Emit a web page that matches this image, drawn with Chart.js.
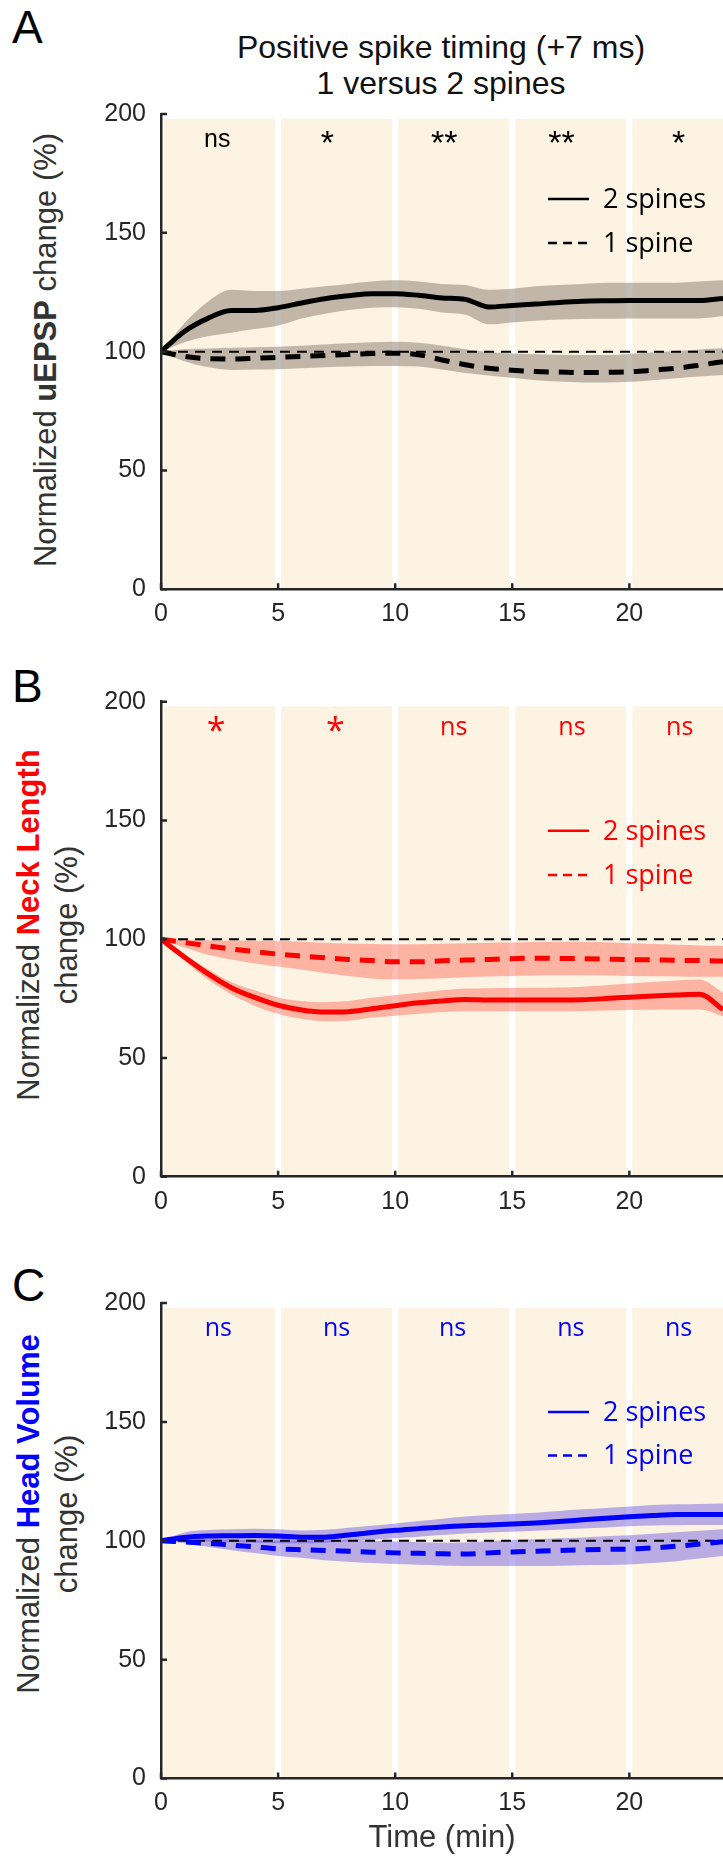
<!DOCTYPE html>
<html>
<head>
<meta charset="utf-8">
<script src="https://cdn.jsdelivr.net/npm/chart.js@4.4.1/dist/chart.umd.min.js"></script>
<style>
  html, body { margin: 0; padding: 0; background: #fff; }
  #fig { position: relative; width: 723px; height: 1860px; overflow: hidden; font-family: 'Liberation Sans', Arial, sans-serif; color: #262626; }
  #fig canvas { position: absolute; left: 0; }
  .letter { position: absolute; left: 12px; font-size: 46px; line-height: 46px; color: #000; }
  .title { position: absolute; left: 141px; top: 29px; width: 600px; text-align: center; font-size: 32px; line-height: 36px; color: #111; }
  .ylab { position: absolute; width: 520px; text-align: center; font-size: 31px; line-height: 38px; white-space: nowrap; transform: rotate(-90deg); color: #333; }
  .ylab b { font-weight: bold; }
  .xlab { position: absolute; left: 292px; width: 300px; top: 1819px; text-align: center; font-size: 31px; line-height: 36px; color: #333; }
</style>
</head>
<body>
<div id="fig">
  <div class="letter" style="top:4px">A</div>
  <div class="title">Positive spike timing (+7 ms)<br>1 versus 2 spines</div>
  <div class="ylab" style="left:-214px; top:331px">Normalized <b>uEPSP</b> change (%)</div>
  <canvas id="chart-a" width="723" height="650" style="top:0"></canvas>

  <div class="letter" style="top:663px">B</div>
  <div class="ylab" style="left:-212px; top:887px">Normalized <b style="color:#ff0000">Neck Length</b><br>change (%)</div>
  <canvas id="chart-b" width="723" height="590" style="top:650px"></canvas>

  <div class="letter" style="top:1262px">C</div>
  <div class="ylab" style="left:-212px; top:1476px">Normalized <b style="color:#0000ff">Head Volume</b><br>change (%)</div>
  <canvas id="chart-c" width="723" height="620" style="top:1240px"></canvas>
  <div class="xlab">Time (min)</div>
</div>
<script>
// ---- data ----
const TIME = [0,1,2,3,4,5,6,7,8,9,10,11,12,13,14,15,16,17,18,19,20,21,22,23,24];
const BASELINE = 100;
const X_TICKS = [0, 5, 10, 15, 20];
const Y_TICKS = [0, 50, 100, 150, 200];
const WINDOWS = [[0, 5], [5, 10], [10, 15], [15, 20], [20, 25]];
const LEGEND_LABELS = ['2 spines', '1 spine'];

// A: uEPSP
const A_SOLID    = [100,108.5,114,117.3,117.3,118.5,120.5,122.3,123.5,124.4,124.4,123.7,122.6,122,118.8,119.4,120,120.7,121.2,121.4,121.5,121.5,121.5,121.5,122.4];
const A_SOLID_HI = [100,112,121,126,125.5,125.5,126.5,127.5,128.5,129.5,130,129.5,128.5,128,126,126.5,127.5,128,128.5,129,129,129,129,129.5,130];
const A_SOLID_LO = [100,104,106.5,108,109.5,111,114,116,117.5,118.5,118.7,118,116.5,115.5,111.5,112.3,113,113.5,113.7,113.8,114,114,114,114,115];
const A_DASH     = [100,98,97,96.9,97.2,97.6,98,98.4,98.8,99.2,99.3,98.7,96.5,94.5,93,92.2,91.6,91.4,91.2,91.3,91.5,92.2,93,94.3,95.8];
const A_DASH_HI  = [100,101,101.3,101.6,101.9,102.1,102.5,103,103.5,104,104.2,103.7,102.5,101,99.8,99.2,98.9,98.7,98.6,98.6,99,99.6,100.3,100.9,101.4];
const A_DASH_LO  = [100,96,93.5,92.3,92.5,92.6,93,93.4,93.7,94,94,93.7,92.5,91,90,89,88,87.4,87,87,87.3,88,88.8,89.5,90.2];
const A_SIG      = ['ns', '*', '**', '**', '*'];
const A_SIG_X    = [2.4, 7.1, 12.1, 17.1, 22.1];

// B: neck length
const B_SOLID    = [100,92.5,85.5,79.6,75.5,72.2,70.2,69.3,69.5,70.7,72,73.2,74,74.6,74.4,74.4,74.4,74.4,74.5,75,75.6,76.1,76.5,76.8,70.4];
const B_SOLID_HI = [100,93.5,87.5,82,78.5,75.5,74,73.5,74,75.3,76.5,77.5,78.5,79.2,79.4,79.5,79.6,79.7,80,80.6,81.3,82,82.6,83,77.5];
const B_SOLID_LO = [100,91,83,76.8,72,68.5,66.5,65.5,65.7,67,67.8,68.6,69.3,69.7,69.7,69.7,69.7,69.7,69.8,70,70.2,70.3,70.4,70.4,67.6];
const B_DASH     = [100,98.6,97.2,95.9,94.8,93.7,92.9,92.2,91.5,91,90.5,90.5,90.9,91.2,91.5,91.8,92,91.9,91.8,91.6,91.4,91.3,91.1,91,90.8];
const B_DASH_HI  = [100,99.8,99.6,99.5,99.4,99.3,98.9,98.5,98.2,98,97.9,97.9,98.1,98.3,98.5,98.6,98.8,98.9,98.9,98.7,98.3,98,97.7,97.4,97.2];
const B_DASH_LO  = [100,96.5,93.5,91.5,89.8,88.5,87.2,85.8,84.5,83.5,83.1,83.2,83.6,84,84.3,84.5,84.7,84.8,84.8,84.7,84.5,84.4,84.3,84.2,84.2];
const B_SIG      = ['*', '*', 'ns', 'ns', 'ns'];
const B_SIG_X    = [2.35, 7.45, 12.5, 17.55, 22.15];

// C: head volume
const C_SOLID    = [100,101.4,102,102.1,102.2,102,101.5,101.5,102.4,103.5,104.4,105.1,105.8,106.3,106.6,107,107.5,108.1,108.8,109.5,110.1,110.6,111,111,111];
const C_SOLID_HI = [100,103.5,104.5,104.8,105,104.8,104.3,104.6,105.5,106.3,107.3,108.3,109.3,110.2,110.8,111.3,111.8,112.5,113.2,113.8,114.4,115,115.3,115.5,115.7];
const C_SOLID_LO = [100,99.8,99.7,99.5,99.2,99,98.9,99.2,99.8,100.4,101,101.7,102.4,103,103.5,103.8,104.2,104.6,105.1,105.6,106.1,106.4,106.5,106.6,106.6];
const C_DASH     = [100,99.5,98.9,98.2,97.4,96.6,96.2,95.9,95.6,95.2,94.9,94.7,94.5,94.4,94.9,95.3,95.6,95.9,96.2,96.4,96.5,97,97.7,98.6,99.6];
const C_DASH_HI  = [100,100.4,100.6,100.4,100.2,100,100.1,100.2,100.2,100,99.7,99.4,99.2,99.3,99.8,100.3,100.6,101,101.4,101.9,102.3,102.9,103.6,104.2,104.8];
const C_DASH_LO  = [100,99,97.5,96,94.8,93.6,92.8,91.8,91.2,90.6,90.2,89.9,89.6,89.4,89.4,89.4,89.4,89.5,89.7,89.8,90,90.6,91.4,92.5,93.6];
const C_SIG      = ['ns', 'ns', 'ns', 'ns', 'ns'];
const C_SIG_X    = [2.45, 7.5, 12.45, 17.5, 22.1];

// ---- styling ----
const AXIS_COLOR = '#262626';
const WINDOW_COLOR = '#fdf3e3';
const TICK_FONT = { family: "'Liberation Sans', Arial, sans-serif", size: 25 };

const PANELS = [
  { id: 'chart-a', top: 114, bottom: 589.3, color: '#000000', band: 'rgba(125,112,100,0.47)',
    solid: A_SOLID, solidHi: A_SOLID_HI, solidLo: A_SOLID_LO, dash: A_DASH, dashHi: A_DASH_HI, dashLo: A_DASH_LO,
    sig: A_SIG, sigX: A_SIG_X, sigFamily: "'Liberation Sans', Arial, sans-serif", legendY: [164.2, 145.7] },
  { id: 'chart-b', top: 51.7, bottom: 526.7, color: '#ff0000', band: 'rgba(255,45,25,0.32)',
    solid: B_SOLID, solidHi: B_SOLID_HI, solidLo: B_SOLID_LO, dash: B_DASH, dashHi: B_DASH_HI, dashLo: B_DASH_LO,
    sig: B_SIG, sigX: B_SIG_X, sigFamily: "'Open Sans', sans-serif", legendY: [145.7, 127] },
  { id: 'chart-c', top: 63, bottom: 538.5, color: '#0000ff', band: 'rgba(75,55,225,0.38)',
    solid: C_SOLID, solidHi: C_SOLID_HI, solidLo: C_SOLID_LO, dash: C_DASH, dashHi: C_DASH_HI, dashLo: C_DASH_LO,
    sig: C_SIG, sigX: C_SIG_X, sigFamily: "'Open Sans', sans-serif", legendY: [154.2, 135.9] },
];

const pts = vals => TIME.map((t, i) => ({ x: t, y: vals[i] }));

// cream time windows, inside ticks, significance marks, legend
const panelDecor = {
  id: 'panelDecor',
  beforeDatasetsDraw(chart, args, p) {
    const { ctx, chartArea, scales: { x, y } } = chart;
    ctx.save();
    ctx.fillStyle = WINDOW_COLOR;
    const top = y.getPixelForValue(198);
    const bottom = y.getPixelForValue(0);
    WINDOWS.forEach(([a, b]) => {
      const l = x.getPixelForValue(a) + 3;
      const r = Math.min(x.getPixelForValue(b) - 3, chartArea.right);
      if (r > l) ctx.fillRect(l, top, r - l, bottom - top);
    });
    ctx.restore();
  },
  afterDatasetsDraw(chart, args, p) {
    const { ctx, chartArea, scales: { x, y } } = chart;
    ctx.save();
    // significance labels (stars drawn a bit larger, as in the figure)
    ctx.fillStyle = p.color;
    ctx.textAlign = 'center';
    ctx.textBaseline = 'alphabetic';
    p.sig.forEach((s, i) => {
      const star = s.startsWith('*');
      ctx.font = (star ? '34px ' : '25px ') + p.sigFamily;
      ctx.fillText(s, x.getPixelForValue(p.sigX[i]), y.getPixelForValue(186) + (star ? 7 : 0));
    });
    // legend
    const lx = chartArea.right - 175;
    LEGEND_LABELS.forEach((label, i) => {
      const py = y.getPixelForValue(p.legendY[i]);
      ctx.strokeStyle = p.color;
      ctx.lineWidth = 2.5;
      ctx.setLineDash(i === 0 ? [] : [9, 6]);
      ctx.beginPath();
      ctx.moveTo(lx, py);
      ctx.lineTo(lx + 41, py);
      ctx.stroke();
      ctx.setLineDash([]);
      ctx.font = "27px 'Open Sans', sans-serif";
      ctx.textAlign = 'left';
      ctx.fillText(label, lx + 55, py + 9);
    });
    ctx.restore();
  },
  afterDraw(chart) {
    const { ctx, scales: { x, y } } = chart;
    const y0 = y.getPixelForValue(0);
    const x0 = x.getPixelForValue(0);
    ctx.save();
    ctx.strokeStyle = AXIS_COLOR;
    ctx.lineWidth = 2.5;
    ctx.beginPath();
    X_TICKS.forEach(t => { const px = x.getPixelForValue(t); ctx.moveTo(px, y0); ctx.lineTo(px, y0 - 6); });
    Y_TICKS.forEach(v => { const py = y.getPixelForValue(v); ctx.moveTo(x0, py); ctx.lineTo(x0 + 6, py); });
    ctx.stroke();
    ctx.restore();
  }
};

function buildChart(p) {
  const canvas = document.getElementById(p.id);
  const H = canvas.height;
  const line = (vals, dashed) => ({
    data: pts(vals), borderColor: p.color, borderWidth: 5, borderDash: dashed ? [15, 10] : [],
    pointRadius: 0, fill: false, cubicInterpolationMode: 'monotone', borderCapStyle: 'butt'
  });
  const edge = (vals, fill) => ({
    data: pts(vals), borderWidth: 0, borderColor: 'transparent', backgroundColor: p.band,
    pointRadius: 0, fill: fill ? '+1' : false, cubicInterpolationMode: 'monotone'
  });
  return new Chart(canvas.getContext('2d'), {
    type: 'line',
    data: {
      datasets: [
        line(p.solid, false),
        line(p.dash, true),
        { data: TIME.map(t => ({ x: t, y: BASELINE })), borderColor: '#000', borderWidth: 2, borderDash: [10, 7], pointRadius: 0, fill: false },
        edge(p.solidHi, true), edge(p.solidLo, false),
        edge(p.dashHi, true), edge(p.dashLo, false)
      ]
    },
    options: {
      responsive: false, animation: false, events: [],
      layout: { padding: { top: p.top, left: 0, right: 0, bottom: 0 } },
      plugins: { legend: { display: false }, tooltip: { enabled: false }, panelDecor: p },
      scales: {
        x: {
          type: 'linear', min: 0, max: 24,
          grid: { display: false, drawTicks: false },
          border: { display: true, color: AXIS_COLOR, width: 2.5, z: 1 },
          ticks: { stepSize: 5, includeBounds: false, font: TICK_FONT, color: AXIS_COLOR, padding: 10, maxRotation: 0 },
          afterFit: s => { s.height = H - p.bottom; }
        },
        y: {
          min: 0, max: 200,
          grid: { display: false, drawTicks: false },
          border: { display: true, color: AXIS_COLOR, width: 2.5, z: 1 },
          ticks: { stepSize: 50, font: TICK_FONT, color: AXIS_COLOR, padding: 15 },
          afterFit: s => { s.width = 161; }
        }
      }
    },
    plugins: [panelDecor]
  });
}

PANELS.forEach(buildChart);
</script>
</body>
</html>
